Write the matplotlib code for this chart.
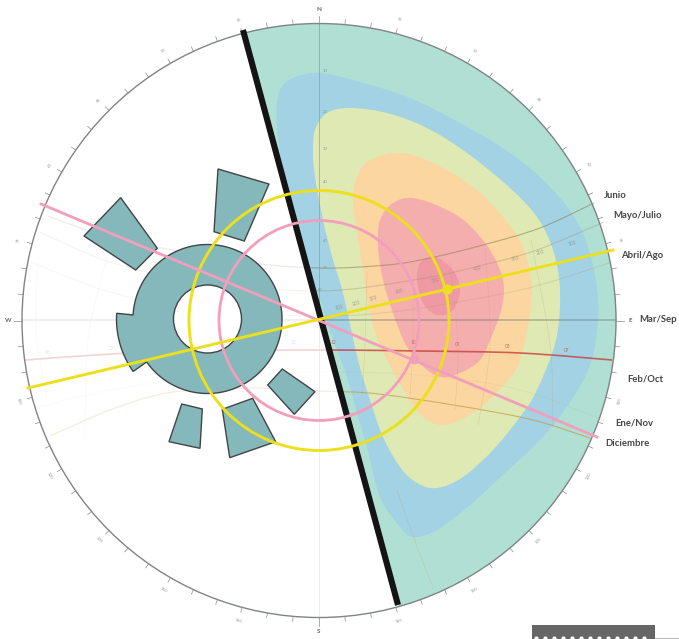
import numpy as np
import matplotlib
matplotlib.use("Agg")
import matplotlib.pyplot as plt
from matplotlib.path import Path
from matplotlib.patches import PathPatch, Polygon, Circle, Rectangle

plt.rcParams['font.family'] = ['Lato', 'DejaVu Sans']

# ---------- data (chart pixel units) ----------
centre = (319, 320.5)
radius = 297
wall = [(243, 30), (398, 605)]

blue_zone = [(277,103),(281,88),(293,78),(320,73),(360,82),(410,98),(460,123),(510,153),(550,187),(580,227),
             (595,275),(598,320),(590,365),(568,405),(540,440),(507,471),(470,505),(437,530),(413,537),(400,527),
             (380,497),(367,447),(357,413),(348,380),(330,330),(305,255),(290,210),(282,167),(277,127)]
green_zone = [(313,153),(315,130),(327,113),(350,108),(387,113),(427,128),(467,153),(510,188),(537,217),(553,250),
              (560,290),(556,340),(537,390),(520,417),(493,450),(463,477),(437,488),(417,483),(400,467),(383,437),
              (370,400),(358,360),(343,293),(333,260),(323,220),(315,177)]
orange_zone = [(353,200),(357,177),(370,160),(400,153),(433,163),(473,187),(503,217),(523,247),(532,288),(527,330),
               (517,367),(497,392),(480,408),(460,420),(443,425),(427,420),(413,405),(398,380),(380,345),(370,313),
               (362,263),(356,225)]
red_zone = [(378,247),(380,220),(393,203),(413,198),(443,208),(467,223),(490,250),(503,280),(502,307),(493,333),
            (480,360),(460,373),(443,377),(427,370),(407,347),(393,313),(383,280)]
core_zone = [(417,280),(420,263),(435,257),(453,270),(460,290),(453,310),(437,315),(423,303)]
zone_colors = ['#a2d2e4', '#dfe9b3', '#fbd6a0', '#f5aeae', '#ef99a4']
segment_color = '#b0dfd3'

month_paths = {
    'Junio': [(48,216),(110,238),(173,250),(240,262),(320,268),(387,265),(430,258),(483,245),(540,228),(594,203)],
    'Mayo/Julio': [(40,232),(110,262),(200,282),(320,291),(420,279),(483,265),(537,250),(604,222)],
    'Abril/Ago': [(30,262),(110,292),(200,310),(320,316),(400,311),(480,298),(540,285),(612,262)],
    'Mar/Sep': [(22,320),(320,320),(617,320)],
    'Feb/Oct': [(25,360),(111,354),(190,351),(320,350),(420,351),(520,353),(612,360)],
    'Ene/Nov': [(35,408),(110,390),(200,378),(320,372),(430,376),(520,390),(604,420)],
    'Diciembre': [(50,436),(110,410),(167,393),(240,388),(320,391),(387,395),(520,417),(590,438)],
}
month_colors = ['#8a7a50', '#9a8c62', '#a89a78', '#70787a', '#c8403c', '#d8b070', '#c49a4c']
month_alphas = [0.55, 0.35, 0.25, 0.7, 0.8, 0.15, 0.7]

hour_lines = [
    [(38,262),(36,330),(47,400)], [(107,257),(88,340),(85,440)], [(175,250),(165,345),(170,400)],
    [(367,272),(365,345),(362,395)], [(413,262),(413,345),(410,395)], [(450,262),(458,345),(455,410)],
    [(485,248),(490,345),(478,425)], [(531,240),(550,345),(553,428)], [(397,490),(417,547),(433,587)],
]

hour_label_pos = [(47,353),(111,348),(165,345),(253,343),(293,342),(333,343),(413,343),(458,345),(508,347),(567,350)]
hour_labels = ['18','17','16','14','13','12','10','09','08','07']
radiation_label_pos = [(339,307),(356,303),(373,298),(400,291),(435,280),(478,268),(515,258),(540,252),(572,243)]
radiation_labels = ['100','200','300','400','500','400','300','200','100']
altitude_label_pos = [(325,71),(325,112),(325,149),(325,182),(325,241),(325,268),(320,290)]
altitude_labels = ['10','20','30','40','60','70','80']

ring_centre = (207.5, 319)
ring_outer = 74.5
ring_inner = 34
wedge_outer = 91
ring_angles = (144.8, -176.9)     # sweep of the ring rim, screen degrees
wedge_angles = (183.6, 144.8)     # sweep of the protruding wedge rim
blocks = [
    [(120.7,197.7),(157.3,248.3),(135.7,270),(84,236)],
    [(218,169),(269,184),(244.3,241),(214,231.7)],
    [(282.3,369),(315,391.7),(294.3,414.3),(267.7,385)],
    [(222.3,409.3),(252.7,398.3),(275.7,441.7),(229.7,457.7)],
    [(181.7,404),(202.3,409),(200,448.3),(169,441.7)],
]

yellow_radius = 130
pink_radius = 100
yellow_ray = [(28,388),(613,250)]
pink_ray = [(41,204),(597,437)]
yellow_dot = (447,289)
pink_dot = (414,359)

month_names = ['Junio','Mayo/Julio','Abril/Ago','Mar/Sep','Feb/Oct','Ene/Nov','Diciembre']
month_label_x = [604,613,621,639,627,615,605]
month_label_y = [195,216,255,320,379,423,443]

compass_step = 5
compass_label_step = 15
compass_names = {0:'N', 90:'E', 180:'S', 270:'W'}
compass_values = {15:'15',30:'30',45:'45',60:'60',75:'75',105:'105',120:'120',135:'135',150:'150',165:'165',
                  195:'165',210:'150',225:'135',240:'120',255:'105',285:'75',300:'60',315:'45',330:'30',345:'15'}

scale_bar = (532, 625, 123, 14)
scale_dots_x = [536,545,554,563,572,581,590,599,608,617,626,635,644]

# ---------- helpers ----------
def smooth_path(points, closed=True):
    """Catmull-Rom outline expressed as cubic Bezier path segments."""
    p = np.asarray(points, float)
    n = len(p)
    verts, codes = [p[0]], [Path.MOVETO]
    last = n if closed else n - 1
    for i in range(last):
        if closed:
            p0, p1, p2, p3 = p[(i-1) % n], p[i], p[(i+1) % n], p[(i+2) % n]
        else:
            p0, p1, p2, p3 = p[max(i-1,0)], p[i], p[i+1], p[min(i+2,n-1)]
        verts += [p1 + (p2-p0)/6, p2 - (p3-p1)/6, p2]
        codes += [Path.CURVE4]*3
    return Path(verts, codes)

def arc(c, r, a0, a1, n=120):
    t = np.radians(np.linspace(a0, a1, n))
    return np.c_[c[0] + r*np.cos(t), c[1] + r*np.sin(t)]

# ---------- figure ----------
fig = plt.figure(figsize=(6.79, 6.39), dpi=100)
ax = fig.add_axes([0, 0, 1, 1])
ax.set_xlim(0, 679)
ax.set_ylim(639, 0)
ax.axis('off')

a_top = np.degrees(np.arctan2(wall[0][1]-centre[1], wall[0][0]-centre[0]))
a_bot = np.degrees(np.arctan2(wall[1][1]-centre[1], wall[1][0]-centre[0]))
segment = Polygon(arc(centre, radius, a_top, a_bot, 240), closed=True, fc=segment_color, ec='none', zorder=1)
ax.add_patch(segment)

for pts, col, z in zip([blue_zone, green_zone, orange_zone, red_zone, core_zone], zone_colors, range(2, 7)):
    patch = PathPatch(smooth_path(pts), fc=col, ec='none', zorder=z)
    ax.add_patch(patch)
    patch.set_clip_path(segment)

for name, col, alpha in zip(month_names, month_colors, month_alphas):
    pts = month_paths[name]
    lw = 1.2 if name == 'Feb/Oct' else 0.8
    ax.add_patch(PathPatch(smooth_path(pts, closed=False), fc='none', ec=col, lw=lw, alpha=alpha, zorder=7))
for pts in hour_lines:
    ax.add_patch(PathPatch(smooth_path(pts, closed=False), fc='none', ec='#c09a6a', lw=0.5, alpha=0.25, zorder=7))
ax.plot([centre[0], centre[0]], [centre[1]-radius, centre[1]+radius], color='#6f8f98', lw=0.6, alpha=0.6, zorder=7)

for (x, y), s in zip(hour_label_pos, hour_labels):
    ax.text(x, y, s, fontsize=3.4, color='#b8453f', ha='center', va='center', alpha=0.7, zorder=8)
for (x, y), s in zip(radiation_label_pos, radiation_labels):
    ax.text(x, y, s, fontsize=3.4, color='#8f8f80', ha='center', va='center', rotation=15, alpha=0.8, zorder=8)
for (x, y), s in zip(altitude_label_pos, altitude_labels):
    ax.text(x, y, s, fontsize=3, color='#6f8f90', ha='center', va='center', alpha=0.8, zorder=8)

veil = Polygon(arc(centre, radius, a_bot, a_top + 360, 240), closed=True, fc='white', ec='none', alpha=0.72, zorder=9)
ax.add_patch(veil)

ax.add_patch(Circle(centre, radius, fc='none', ec='#808484', lw=1.0, zorder=10))
for az in range(0, 360, compass_step):
    t = np.radians(az)
    s, c = np.sin(t), np.cos(t)
    length = 8 if az % 90 == 0 else 5
    ax.plot([centre[0]+radius*s, centre[0]+(radius+length)*s],
            [centre[1]-radius*c, centre[1]-(radius+length)*c], color='#8a8a8a', lw=0.5, zorder=10)
for az in range(0, 360, compass_label_step):
    t = np.radians(az)
    x, y = centre[0]+(radius+14)*np.sin(t), centre[1]-(radius+14)*np.cos(t)
    if az in compass_names:
        ax.text(x, y, compass_names[az], fontsize=4.5, fontweight='bold', color='#666666', ha='center', va='center', zorder=10)
    else:
        rot = -az if az <= 90 or az >= 270 else 180 - az
        ax.text(x, y, compass_values[az], fontsize=3.2, color='#999999', ha='center', va='center', rotation=rot, zorder=10)

rim = np.vstack([arc(ring_centre, ring_outer, *ring_angles, 200),
                 arc(ring_centre, wedge_outer, *wedge_angles, 30)])
ax.add_patch(Polygon(rim, closed=True, fc='#85b8ba', ec='#444444', lw=1.0, zorder=11))
ax.add_patch(Circle(ring_centre, ring_inner, fc='white', ec='#444444', lw=1.0, zorder=11))
for b in blocks:
    ax.add_patch(Polygon(b, closed=True, fc='#85b8ba', ec='#444444', lw=1.0, zorder=11))

ax.plot(*zip(*wall), color='#141414', lw=4.4, solid_capstyle='butt', zorder=12)

yellow, pink = '#ecdf1d', '#f29ebd'
ax.add_patch(Circle(centre, yellow_radius, fc='none', ec=yellow, lw=2.1, zorder=13))
ax.add_patch(Circle(centre, pink_radius, fc='none', ec=pink, lw=2.0, zorder=13))
ax.plot(*zip(*pink_ray), color=pink, lw=2.0, zorder=13)
ax.plot(*zip(*yellow_ray), color=yellow, lw=2.1, zorder=14)
ax.plot(*yellow_dot, 'o', color=yellow, ms=7.5, mew=0, zorder=15)
ax.plot(*pink_dot, 'o', color=pink, ms=7, mew=0, zorder=15)

for x, y, s in zip(month_label_x, month_label_y, month_names):
    ax.text(x, y, s, fontsize=6.8, fontweight='bold', color='#444444', ha='left', va='center', zorder=16)

ax.add_patch(Rectangle(scale_bar[:2], scale_bar[2], scale_bar[3], fc='#666666', ec='none', zorder=16))
ax.plot(scale_dots_x, [638]*len(scale_dots_x), 'o', color='white', ms=3, mew=0, zorder=17)
ax.plot([655, 679], [638, 638], color='#bbbbbb', lw=0.8, zorder=16)

fig.savefig('out.png', dpi=100)
